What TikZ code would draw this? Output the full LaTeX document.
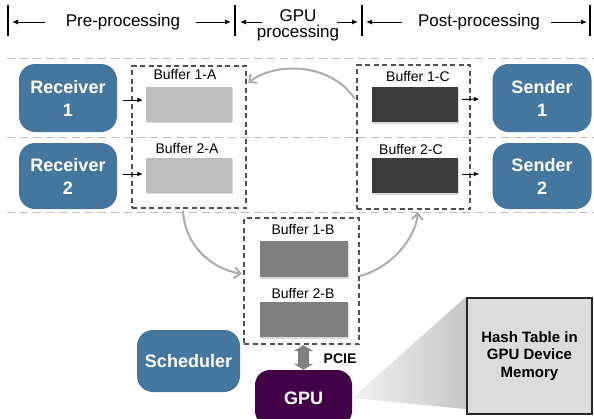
\documentclass[tikz,border=0pt]{standalone}
\usepackage{fontspec}
\setmainfont{Liberation Sans}
\usetikzlibrary{arrows.meta,shadows,calc,backgrounds}
\definecolor{actorblue}{RGB}{69,119,158}
\definecolor{bufLight}{RGB}{190,190,190}
\definecolor{bufMid}{RGB}{128,128,128}
\definecolor{bufDark}{RGB}{60,60,60}
\definecolor{grpgray}{RGB}{80,80,80}
\definecolor{curvegray}{RGB}{172,172,172}
\definecolor{sepgray}{RGB}{190,190,190}
\definecolor{gpupurple}{RGB}{66,0,70}
\definecolor{hashfill}{RGB}{220,220,220}
\begin{document}
\begin{tikzpicture}[x=1pt,y=-1pt,
  actor/.style={rounded corners=16pt, fill=actorblue, text=white, align=center,
    font=\fontsize{18}{23}\selectfont\bfseries, inner sep=0pt},
  bufbox/.style={minimum width=86pt, minimum height=35pt, inner sep=0pt,
    drop shadow={shadow xshift=0.6pt, shadow yshift=-1.6pt, opacity=0.3}},
  lbl/.style={font=\fontsize{14}{16}\selectfont, inner sep=0pt},
  grp/.style={draw=grpgray, line width=2.2pt, dash pattern=on 5pt off 3.5pt, inner sep=0pt},
  sep/.style={draw=sepgray, line width=1pt, dash pattern=on 8pt off 5pt},
  hdr/.style={font=\fontsize{17}{16}\selectfont, inner sep=0pt, align=center},
  harrow/.style={-{Latex[length=6pt,width=5pt]}, line width=1pt},
  bar/.style={line width=1.8pt},
  sarrow/.style={-{Latex[length=5.5pt,width=5pt]}, line width=1pt},
  curve/.style={draw=curvegray, line width=2pt, -{Straight Barb[length=6pt,width=11pt]}}
]
\clip (0,0) rectangle (594,418);

% separators
\draw[sep] (7,58) -- (594,58);
\draw[sep] (7,137) -- (594,137);
\draw[sep] (7,212) -- (594,212);

% header
\coordinate (bar1) at (8,5);
\coordinate (bar2) at (235,5);
\coordinate (bar3) at (362,5);
\coordinate (bar4) at (590,5);
\foreach \b in {bar1,bar2,bar3,bar4} \draw[bar] (\b) -- ++(0,31);
\node[hdr] (pre) at (123,22) {Pre-processing};
\node[hdr] (gpuproc) at (298,25) {GPU\\processing};
\node[hdr] (post) at (479,22) {Post-processing};
\draw[harrow] (45,22) -- (12,22);
\draw[harrow] (196,22) -- (231,22);
\draw[harrow] (262,22) -- (240,22);
\draw[harrow] (337,22) -- (358,22);
\draw[harrow] (402,22) -- (366,22);
\draw[harrow] (551,22) -- (587,22);

% actors
\node[actor, minimum width=98pt, minimum height=68pt] (rec1) at (68,98) {Receiver\\1};
\node[actor, minimum width=98pt, minimum height=66pt] (rec2) at (68,176) {Receiver\\2};
\node[actor, minimum width=99pt, minimum height=68pt] (snd1) at (542,98) {Sender\\1};
\node[actor, minimum width=99pt, minimum height=66pt] (snd2) at (542,176) {Sender\\2};
\node[actor, minimum width=103pt, minimum height=62pt] (sched) at (188.5,361) {Scheduler};

% group boxes
\node[grp, minimum width=114pt, minimum height=142pt] (boxA) at (189,137) {};
\node[grp, minimum width=113pt, minimum height=144pt] (boxC) at (413.5,137) {};
\node[grp, minimum width=115pt, minimum height=126pt] (boxB) at (301.5,281) {};

% buffers
\node[lbl] (la1) at (185,75) {Buffer 1-A};
\node[bufbox, fill=bufLight] (a1) at (189,104) {};
\node[lbl] (la2) at (187,148) {Buffer 2-A};
\node[bufbox, fill=bufLight] (a2) at (189,175) {};
\node[lbl] (lc1) at (418,76) {Buffer 1-C};
\node[bufbox, fill=bufDark] (c1) at (415,104.5) {};
\node[lbl] (lc2) at (411,149) {Buffer 2-C};
\node[bufbox, fill=bufDark] (c2) at (415,175.5) {};
\node[lbl] (lb1) at (303,229) {Buffer 1-B};
\node[bufbox, fill=bufMid, minimum width=88pt, minimum height=36pt] (b1) at (304,259) {};
\node[lbl] (lb2) at (303,293) {Buffer 2-B};
\node[bufbox, fill=bufMid, minimum width=88pt] (b2) at (304,319.5) {};

% small arrows
\draw[sarrow] ($(rec1.east)+(6,2)$) -- ($(a1.west)+(-3,-4)$);
\draw[sarrow] ($(rec2.east)+(6,-2)$) -- ($(a2.west)+(-3,-1)$);
\draw[sarrow] ($(c1.east)+(4,-5)$) -- ($(snd1.west)+(-13,1)$);
\draw[sarrow] ($(c2.east)+(4,-1.5)$) -- ($(snd2.west)+(-13,-2)$);

% curved flow arrows
\draw[curve] ($(boxC.north west)+(-1,35)$) .. controls (330,62) and (275,62) .. ($(boxA.north east)+(1,18)$);
\draw[curve] ($(boxA.south)+(-6,2)$) .. controls (185,245) and (210,268) .. ($(boxB.west)+(-1,-7)$);
\draw[curve] ($(boxB.east)+(0,-5)$) .. controls (390,268) and (415,240) .. ($(boxC.south)+(4.5,2)$);

% GPU and PCIE
\node[rounded corners=15pt, fill=gpupurple, text=white, font=\fontsize{18}{20}\selectfont\bfseries,
  minimum width=97pt, minimum height=56pt, inner sep=0pt] (gpu) at (303.5,398) {GPU};
\draw[line width=11pt, draw=bufMid, {Triangle[length=6pt,width=19pt]}-{Triangle[length=6pt,width=19pt]}]
  (gpu.north) -- (gpu.north |- boxB.south);
\node[font=\fontsize{14}{16}\selectfont\bfseries, inner sep=0pt] (pcie) at (340,359) {PCIE};

% hash table and zoom wedge
\node[draw=black!85, line width=2.2pt, fill=hashfill, minimum width=125pt, minimum height=116pt,
  align=center, font=\fontsize{15}{17.5}\selectfont\bfseries, inner sep=0pt] (hash) at (529.5,356)
  {Hash Table in\\GPU Device\\Memory};
\begin{pgfonlayer}{background}
\shade[left color=white!95!black, right color=black!22] (gpu.east) -- (hash.north west) -- ($(hash.south west)+(0,-6)$) -- cycle;
\end{pgfonlayer}
\end{tikzpicture}
\end{document}
